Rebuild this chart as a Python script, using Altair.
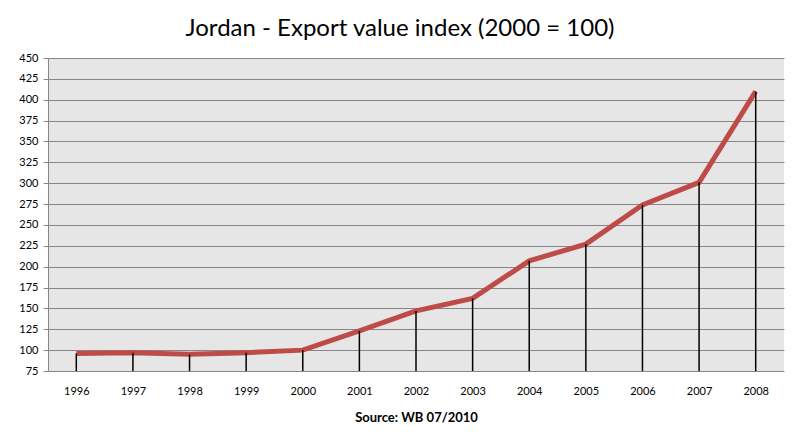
import altair as alt
import pandas as pd

years = ["1996", "1997", "1998", "1999", "2000", "2001", "2002", "2003",
         "2004", "2005", "2006", "2007", "2008"]
values = [96, 97, 95, 97, 100, 123, 147, 162, 207, 227, 274, 301, 410]
y_ticks = list(range(75, 451, 25))

df = pd.DataFrame({"year": years, "value": values, "base": [75] * len(years)})

FONT = "Lato"

x_enc = alt.X("year:O", scale=alt.Scale(type="point", padding=0.5),
              axis=alt.Axis(title="Source: WB 07/2010", labelAngle=0, ticks=False,
                            domain=False, labelPadding=14, labelFontSize=11,
                            labelColor="#000", titleFontWeight="bold",
                            titleFontSize=13, titlePadding=15, titleColor="#000",
                            labelFont=FONT, titleFont=FONT, labelOverlap=False))
y_enc = alt.Y("value:Q", scale=alt.Scale(domain=[75, 450], nice=False, zero=False),
              axis=alt.Axis(title=None, values=y_ticks, tickCount=len(y_ticks) + 2,
                            grid=True, gridColor="#868686",
                            gridWidth=1, tickColor="#868686", tickSize=5,
                            domainColor="#868686", labelFontSize=11, labelColor="#000",
                            labelPadding=5, labelFont=FONT, labelOverlap=False))

line = alt.Chart(df).mark_line(color="#be4b48", strokeWidth=5).encode(x=x_enc, y=y_enc)
rules = alt.Chart(df).mark_rule(color="#000", strokeWidth=1.5).encode(
    x=alt.X("year:O"), y=alt.Y("value:Q"), y2="base:Q")

chart = alt.layer(line, rules).properties(
    width=736, height=313,
    title=alt.TitleParams("Jordan - Export value index (2000 = 100)", fontSize=24,
                          font=FONT, fontWeight="normal", color="#000", dx=-16, offset=11),
    padding={"left": 40, "top": 50, "right": 8, "bottom": 65},
    background="white",
    autosize=alt.AutoSizeParams(type="none"),
).configure_view(fill="#e6e6e6", stroke=None)

chart.save("out.html", embed_options={"renderer": "svg", "actions": False})
